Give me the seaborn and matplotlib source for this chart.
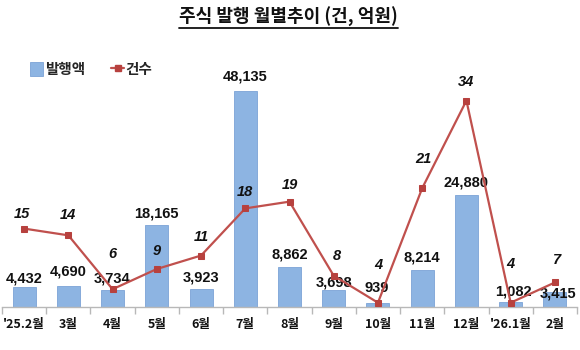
import matplotlib
matplotlib.use("Agg")
import matplotlib.pyplot as plt
from matplotlib.lines import Line2D
from matplotlib.patches import Patch
import numpy as np
import pandas as pd
import seaborn as sns

# Monthly stock issuance data
months = ["'25.2월", "3월", "4월", "5월", "6월", "7월", "8월", "9월",
          "10월", "11월", "12월", "'26.1월", "2월"]
amounts = [4432, 4690, 3734, 18165, 3923, 48135, 8862, 3698,
           939, 8214, 24880, 1082, 3415]          # 발행액 (억원)
counts = [15, 14, 6, 9, 11, 18, 19, 8, 4, 21, 34, 4, 7]  # 건수 (건)

title_text = "주식 발행 월별추이 (건, 억원)"
bar_name = "발행액"
line_name = "건수"

# label placement tweaks (pixels above the mark)
bar_label_dy = [9, 14, 12, 12, 12, 14, 13, 8, 15, 13, 13, 11, -2]
bar_label_dx = [0, 0, 0, 0, 0, 0, 0, 0, -1, 0, 0, 3, 3]
line_label_dy = [15, 20, 35, 18, 19, 16, 17, 20, 38, 29, 19, 39, 22]
line_label_dx = [-2, 0, 0, 0, 0, 0, 0, 3, 0, 1, 0, 0, 2]

df = pd.DataFrame({"month": months, "amount": amounts, "count": counts})

sns.set_theme(style="white")
plt.rcParams["font.family"] = ["Noto Sans CJK KR", "DejaVu Sans"]

BAR_BLUE = "#8DB4E2"
BAR_EDGE = "#7BA3D6"
LINE_RED = "#C0504D"
MARK_RED = "#B7413E"

fig = plt.figure(figsize=(5.8, 3.5), dpi=100)
ax = fig.add_axes([2 / 580, 43 / 350, 575 / 580, 267 / 350])

sns.barplot(data=df, x="month", y="amount", ax=ax, color=BAR_BLUE,
            width=0.52, edgecolor=BAR_EDGE, linewidth=0.6, saturation=1)
ax.set_ylim(0, 59400)
ax.set_xlim(-0.5, len(months) - 0.5)

ax2 = ax.twinx()
sns.lineplot(data=df, x="month", y="count", ax=ax2, color=LINE_RED,
             linewidth=1.6, marker="s", markersize=5,
             markerfacecolor=MARK_RED, markeredgecolor=MARK_RED, sort=False)
ax2.set_ylim(3.36, 43.0)
ax2.set_xlim(-0.5, len(months) - 0.5)

for a in (ax, ax2):
    a.set_xlabel("")
    a.set_ylabel("")
    a.set_yticks([])
    for side in ("top", "left", "right"):
        a.spines[side].set_visible(False)
    a.spines["bottom"].set_color("#B8B8B8")
    a.spines["bottom"].set_linewidth(1.0)
ax2.spines["bottom"].set_visible(False)

# category labels at centres, tick marks on boundaries
ax.set_xticks(range(len(months)))
ax.set_xticklabels(months, fontsize=9, fontweight="bold", color="#111111")
ax.tick_params(axis="x", which="major", length=0, pad=8)
ax.set_xticks(np.arange(-0.5, len(months)), minor=True)
ax.tick_params(axis="x", which="minor", length=5, width=1.0,
               color="#B8B8B8", direction="out", bottom=True)
ax2.tick_params(axis="x", which="both", length=0, labelbottom=False)

num_font = ["Liberation Sans", "DejaVu Sans"]

for i, v in enumerate(amounts):
    ax.annotate(f"{v:,}", xy=(i, v), xytext=(bar_label_dx[i], bar_label_dy[i]),
                textcoords="offset pixels", ha="center", va="center",
                fontsize=10.5, fontweight="bold", color="#111111",
                family=num_font, zorder=5)

for i, v in enumerate(counts):
    ax2.annotate(f"{v}", xy=(i, v), xytext=(line_label_dx[i], line_label_dy[i]),
                 textcoords="offset pixels", ha="center", va="center",
                 fontsize=10.5, fontweight="bold", style="italic",
                 color="#111111", family=num_font, zorder=5)

# title with underline
t = fig.text(0.497, 1 - 17 / 350, title_text, ha="center", va="center",
             fontsize=13, fontweight="bold", color="#111111")
fig.canvas.draw()
bb = t.get_window_extent().transformed(fig.transFigure.inverted())
fig.add_artist(Line2D([bb.x0, bb.x1], [bb.y0 - 0.004, bb.y0 - 0.004],
                      transform=fig.transFigure, color="#111111", lw=1.3))

handles = [Patch(facecolor=BAR_BLUE, edgecolor=BAR_EDGE, linewidth=0.6),
           Line2D([0], [0], color=LINE_RED, lw=1.6, marker="s", markersize=4,
                  markerfacecolor=MARK_RED, markeredgecolor=MARK_RED)]
fig.legend(handles, [bar_name, line_name], loc="center left",
           bbox_to_anchor=(30 / 580, 1 - 69 / 350), ncol=2, frameon=False,
           prop={"family": ["Noto Sans CJK KR"], "weight": "bold", "size": 10.5},
           handlelength=0.9, handleheight=1.0, handletextpad=0.1,
           columnspacing=1.8, borderpad=0, borderaxespad=0)

fig.savefig("out.png", dpi=100)
